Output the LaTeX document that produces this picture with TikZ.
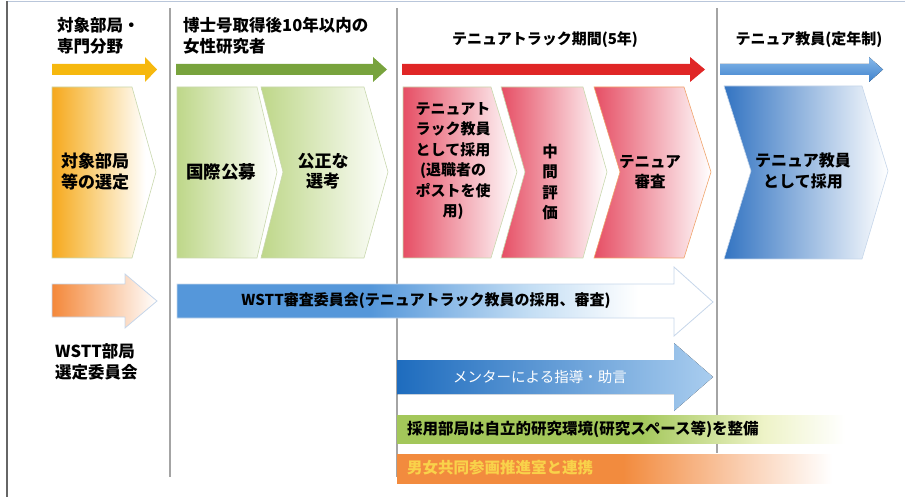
\documentclass[tikz,border=0pt]{standalone}
\usepackage{fontspec}
\setmainfont{Noto Sans CJK JP}
\definecolor{yelA}{HTML}{F6B80E}
\definecolor{grnA}{HTML}{78A33D}
\definecolor{redA}{HTML}{E02626}
\definecolor{bluA}{HTML}{3F82CC}
\definecolor{bluB}{HTML}{86B8EA}
\definecolor{orgC}{HTML}{F6A81C}
\definecolor{orgM}{HTML}{F9CB70}
\definecolor{grnC}{HTML}{BED789}
\definecolor{redC}{HTML}{E64E64}
\definecolor{bluC}{HTML}{3374C2}
\definecolor{wsttB}{HTML}{5597DA}
\definecolor{wsttL}{HTML}{C4DEF4}
\definecolor{mentA}{HTML}{1E6CBE}
\definecolor{mentB}{HTML}{A9CDEF}
\definecolor{barG}{HTML}{A3C75A}
\definecolor{barGL}{HTML}{EEF3C8}
\definecolor{barO}{HTML}{F28B3E}
\definecolor{barOL}{HTML}{FAD0B4}
\definecolor{txtO}{HTML}{F9D24A}
\definecolor{sepG}{HTML}{A4A4A4}
\definecolor{frameT}{HTML}{B9C6DA}
\definecolor{outG}{HTML}{C9D8AE}
\definecolor{outO}{HTML}{F0A46C}
\definecolor{outB}{HTML}{C6D6EA}
\definecolor{orgL}{HTML}{F4883A}
\pgfdeclarehorizontalshading{greenbar}{100bp}{color(0bp)=(barG); color(25bp)=(barG); color(52bp)=(barG); color(66bp)=(barGL); color(75bp)=(white); color(100bp)=(white)}
\pgfdeclarehorizontalshading{orangebar}{100bp}{color(0bp)=(barO); color(25bp)=(barO); color(51bp)=(barO); color(65bp)=(barOL); color(75bp)=(white); color(100bp)=(white)}
\pgfdeclarehorizontalshading{wsttbar}{100bp}{color(0bp)=(wsttB); color(25bp)=(wsttB); color(43bp)=(wsttB); color(58bp)=(wsttL); color(68bp)=(white); color(100bp)=(white)}
\pgfdeclarehorizontalshading{chevshade}{100bp}{color(0bp)=(orgC); color(25bp)=(orgC); color(42bp)=(orgM); color(70bp)=(white); color(100bp)=(white)}
\begin{document}
\begin{tikzpicture}[x=1pt,y=-1pt,
  lbl/.style={font=\bfseries\fontsize{15.5}{20.5}\selectfont, align=center, inner sep=0pt, text=black},
  hdr/.style={font=\bfseries\fontsize{16.5}{20.5}\selectfont, align=left, inner sep=0pt, anchor=west, text=black},
  sepline/.style={draw=sepG, line width=1.2pt},
  chevout/.style={line width=0.6pt}]
\useasboundingbox (0,0) rectangle (924,497);
% frame
\draw[frameT, line width=1.5pt] (7,1.5) -- (905,1.5);
\draw[black!60, line width=1.3pt] (7,1.5) -- (7,497);
% separators
\draw[sepline] (170,8) -- (170,477);
\draw[sepline] (397,8) -- (397,477);
\draw[sepline] (717,8) -- (717,453);
% headers
\node[hdr] (h1) at (57,36) {対象部局・\\専門分野};
\node[hdr] (h2) at (183,36) {博士号取得後10年以内の\\女性研究者};
\node[lbl, font=\bfseries\fontsize{15}{18}\selectfont] (h3) at (545,40) {テニュアトラック期間(5年)};
\node[lbl, font=\bfseries\fontsize{15}{18}\selectfont] (h4) at (809,40) {テニュア教員(定年制)};
% top arrows
\fill[yelA] (52,64) -- (145,64) -- (145,57) -- (157,69.5) -- (145,82) -- (145,75) -- (52,75) -- cycle;
\fill[grnA] (176,64) -- (373,64) -- (373,57) -- (387,69.5) -- (373,82) -- (373,75) -- (176,75) -- cycle;
\fill[redA] (402,64) -- (690,64) -- (690,57) -- (705,69.5) -- (690,82) -- (690,75) -- (402,75) -- cycle;
\fill[top color=bluB, bottom color=bluA] (720,64) -- (869,64) -- (869,57) -- (883,69.5) -- (869,82) -- (869,75) -- (720,75) -- cycle;
% chevrons
\draw[chevout, draw=outG, shading=chevshade] (52,87) -- (132,87) -- (156,172) -- (132,258) -- (52,258) -- cycle;
\draw[chevout, draw=outG, left color=grnC, right color=white] (177,87) -- (257,87) -- (277,172) -- (257,258) -- (177,258) -- cycle;
\draw[chevout, draw=outG, left color=grnC, right color=white] (261,87) -- (364,87) -- (388,172) -- (364,258) -- (261,258) -- (283,172) -- cycle;
\draw[chevout, draw=outG, left color=redC, right color=white] (403,87) -- (491,87) -- (517,172) -- (491,258) -- (403,258) -- cycle;
\draw[chevout, draw=outG, left color=redC, right color=white] (501,87) -- (583,87) -- (607,172) -- (583,258) -- (501,258) -- (525,172) -- cycle;
\draw[chevout, draw=outO, left color=redC, right color=white] (594,87) -- (684,87) -- (711,172) -- (684,258) -- (594,258) -- (620,172) -- cycle;
\draw[chevout, draw=outB, left color=bluC, right color=white] (724,86) -- (862,86) -- (888,171) -- (862,259) -- (724,259) -- (751,171) -- cycle;
\node[lbl, font=\bfseries\fontsize{17}{21}\selectfont] (c1) at (95,172) {対象部局\\等の選定};
\node[lbl, font=\bfseries\fontsize{17.5}{21}\selectfont] (c2) at (221,172) {国際公募};
\node[lbl, font=\bfseries\fontsize{17}{19.5}\selectfont] (c3) at (323,171) {公正な\\選考};
\node[lbl, font=\bfseries\fontsize{15}{20.4}\selectfont] (c4) at (453,161) {テニュアト\\ラック教員\\として採用\\(退職者の\\ポストを使\\用)};
\node[lbl, font=\bfseries\fontsize{15.5}{20.5}\selectfont] (c5) at (550,182) {中\\間\\評\\価};
\node[lbl, font=\bfseries\fontsize{15.5}{19.5}\selectfont] (c6) at (650,172) {テニュア\\審査};
\node[lbl, font=\bfseries\fontsize{16}{21.5}\selectfont] (c7) at (803,171) {テニュア教員\\として採用};
% lower left arrow
\draw[line width=0.8pt, draw=outB, left color=orgL, right color=white] (52,284) -- (125,284) -- (125,274) -- (157,301) -- (125,328) -- (125,317) -- (52,317) -- cycle;
\node[hdr] (w1) at (55,362) {WSTT部局\\選定委員会};
% WSTT arrow
\draw[line width=0.8pt, draw=outB, shading=wsttbar] (177,284) -- (674,284) -- (674,267) -- (713,302) -- (674,336) -- (674,318) -- (177,318) -- cycle;
\node[lbl, font=\bfseries\fontsize{15}{18}\selectfont] (w2) at (426,301) {WSTT審査委員会(テニュアトラック教員の採用、審査)};
% mentor arrow
\fill[left color=mentA, right color=mentB] (397,360) -- (674,360) -- (674,343) -- (713,377) -- (674,411) -- (674,394) -- (397,394) -- cycle;
\node[lbl, font=\fontsize{14.5}{18}\selectfont, text=white] (m1) at (540,377) {メンターによる指導・助言};
% bars
\shade[shading=greenbar] (397,415) rectangle (845,443);
\node[hdr, font=\bfseries\fontsize{15.5}{18}\selectfont] (g1) at (407,429) {採用部局は自立的研究環境(研究スペース等)を整備};
\shade[shading=orangebar] (397,454) rectangle (832,483);
\node[hdr, font=\bfseries\fontsize{15.5}{18}\selectfont, text=txtO] (o1) at (407,468) {男女共同参画推進室と連携};
\end{tikzpicture}
\end{document}
